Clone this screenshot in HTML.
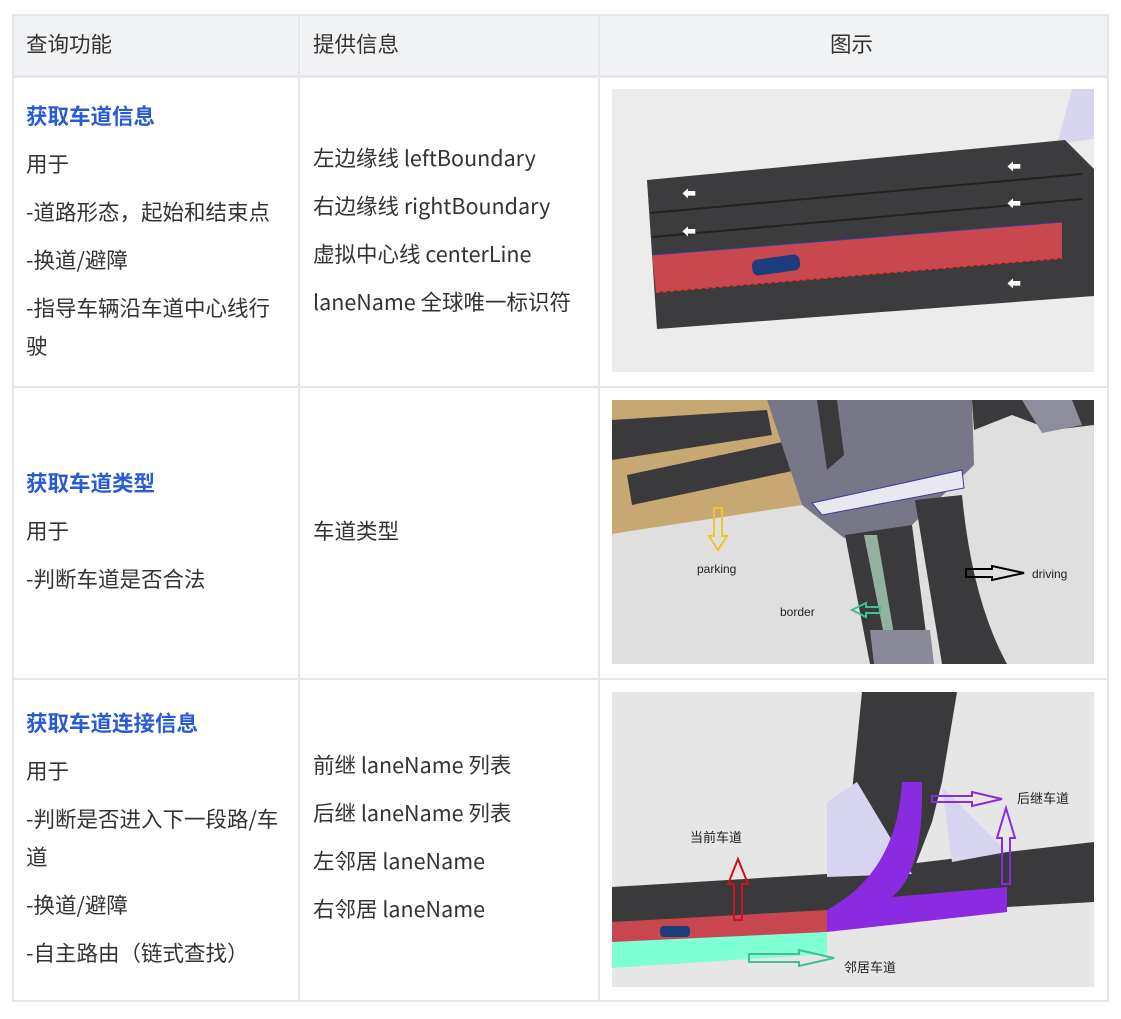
<!DOCTYPE html>
<html><head><meta charset="utf-8"><style>
body{margin:0;background:#fff;width:1121px;height:1019px;position:relative;font-family:"Noto Sans CJK SC","Liberation Sans",sans-serif;color:#333;}
.t{position:absolute;font-size:21.5px;line-height:24px;white-space:nowrap}
.b{color:#2a5bd7;font-weight:bold}
.box{position:absolute}
</style></head><body>
<div class="box" style="left:12px;top:14px;width:1095px;height:62px;background:#f1f2f4"></div>
<div class="box" style="left:12px;top:14px;width:1093px;height:984px;border:2px solid #e4e6e9"></div>
<div class="box" style="left:12px;top:75px;width:1095px;height:3px;background:#e4e6e9"></div>
<div class="box" style="left:12px;top:386px;width:1095px;height:2px;background:#e4e6e9"></div>
<div class="box" style="left:12px;top:678px;width:1095px;height:2px;background:#e4e6e9"></div>
<div class="box" style="left:298px;top:14px;width:2px;height:986px;background:#e4e6e9"></div>
<div class="box" style="left:598px;top:14px;width:2px;height:986px;background:#e4e6e9"></div>

<div class="t" style="left:26px;top:32px">查询功能</div>
<div class="t" style="left:313px;top:32px">提供信息</div>
<div class="t" style="left:830px;top:32px">图示</div>

<div class="t b" style="left:26px;top:104px">获取车道信息</div>
<div class="t" style="left:26px;top:152px">用于</div>
<div class="t" style="left:26px;top:200px">-道路形态，起始和结束点</div>
<div class="t" style="left:26px;top:248px">-换道/避障</div>
<div class="t" style="left:26px;top:296px">-指导车辆沿车道中心线行</div>
<div class="t" style="left:26px;top:334px">驶</div>
<div class="t" style="left:313px;top:146px">左边缘线 leftBoundary</div>
<div class="t" style="left:313px;top:194px">右边缘线 rightBoundary</div>
<div class="t" style="left:313px;top:242px">虚拟中心线 centerLine</div>
<div class="t" style="left:313px;top:290px">laneName 全球唯一标识符</div>

<div class="t b" style="left:26px;top:471px">获取车道类型</div>
<div class="t" style="left:26px;top:519px">用于</div>
<div class="t" style="left:26px;top:567px">-判断车道是否合法</div>
<div class="t" style="left:313px;top:519px">车道类型</div>

<div class="t b" style="left:26px;top:711px">获取车道连接信息</div>
<div class="t" style="left:26px;top:759px">用于</div>
<div class="t" style="left:26px;top:807px">-判断是否进入下一段路/车</div>
<div class="t" style="left:26px;top:845px">道</div>
<div class="t" style="left:26px;top:893px">-换道/避障</div>
<div class="t" style="left:26px;top:941px">-自主路由（链式查找）</div>
<div class="t" style="left:313px;top:753px">前继 laneName 列表</div>
<div class="t" style="left:313px;top:801px">后继 laneName 列表</div>
<div class="t" style="left:313px;top:849px">左邻居 laneName</div>
<div class="t" style="left:313px;top:897px">右邻居 laneName</div>

<!-- image 1 -->
<svg class="box" style="left:612px;top:89px" width="482" height="283" viewBox="0 0 482 283">
<rect width="482" height="283" fill="#ececec"/>
<polygon points="460,0 482,0 482,50 445,55" fill="#d8d6ee"/>
<polygon points="35,91 453,51 482,80 482,207 45,240" fill="#3c3c3e"/>
<line x1="38" y1="124" x2="470" y2="85" stroke="#222" stroke-width="2"/>
<line x1="40" y1="148" x2="470" y2="110" stroke="#222" stroke-width="2"/>
<polygon points="40,166 450,133 450,169 44,203" fill="#c9474f"/>
<line x1="40" y1="166" x2="450" y2="133" stroke="#2a3fa0" stroke-width="1"/>
<line x1="44" y1="203" x2="450" y2="169" stroke="#e33" stroke-width="2" stroke-dasharray="4,3"/>
<rect x="140" y="168" width="48" height="16" rx="6" fill="#1c3c7a" transform="rotate(-8 164 176)"/>
<g fill="#fff" font-size="14"><text x="70" y="110">⬅</text><text x="70" y="148">⬅</text><text x="395" y="83">⬅</text><text x="395" y="120">⬅</text><text x="395" y="200">⬅</text></g>
</svg>

<!-- image 2 -->
<svg class="box" style="left:612px;top:400px" width="482" height="264" viewBox="0 0 482 264">
<rect width="482" height="264" fill="#dfdfdf"/>
<polygon points="0,0 155,0 190,105 25,130 0,134" fill="#c8a872"/>
<polygon points="0,20 155,10 160,35 0,60" fill="#3a3a3c"/>
<polygon points="15,75 180,40 185,70 20,105" fill="#3a3a3c"/>
<polygon points="155,0 360,0 362,65 300,125 232,138 190,105" fill="#787787"/>
<polygon points="205,0 225,0 232,55 215,70" fill="#3a3a3c"/>
<polygon points="360,0 482,0 482,25 440,30 400,15 362,30" fill="#3a3a3c"/>
<polygon points="410,0 460,0 470,25 430,33" fill="#8e8d9c"/>
<path d="M362,65 Q400,25 482,40 L482,264 L395,264 Q360,150 362,65Z" fill="#dfdfdf"/>
<polygon points="233,135 300,125 318,264 258,264" fill="#3a3a3c"/>
<polygon points="252,135 265,135 283,240 273,240" fill="#94b0a0"/>
<path d="M303,100 L350,95 Q360,200 395,264 L330,264 Z" fill="#3a3a3c"/>
<polygon points="200,103 350,70 352,88 210,115" fill="#e8e8ee" stroke="#3a3aa0" stroke-width="1"/>
<polygon points="258,230 318,230 322,264 262,264" fill="#8a8998"/>
<path d="M102,108 h8 v28 h5 l-9,14 l-9,-14 h5z" fill="none" stroke="#f2c230" stroke-width="2"/>
<path d="M268,207 h-14 v-4 l-14,7 l14,7 v-4 h14z" fill="none" stroke="#40c090" stroke-width="2"/>
<path d="M354,169 h26 v-3 l32,7 l-32,7 v-3 h-26z" fill="none" stroke="#000" stroke-width="2"/>
<g font-size="12" fill="#222" font-family="Liberation Sans,sans-serif"><text x="85" y="173">parking</text><text x="168" y="216">border</text><text x="420" y="178">driving</text></g>
</svg>

<!-- image 3 -->
<svg class="box" style="left:612px;top:692px" width="482" height="295" viewBox="0 0 482 295">
<rect width="482" height="295" fill="#e6e6e6"/>
<polygon points="0,195 215,182 395,160 482,150 482,210 395,215 215,235 0,240" fill="#3a3a3c"/>
<polygon points="250,0 345,0 330,90 320,130 300,182 215,185 240,100" fill="#3a3a3c"/>
<polygon points="215,110 245,90 300,182 215,185" fill="#d6d4ee"/>
<polygon points="330,95 395,160 340,170" fill="#d6d4ee"/>
<path d="M290,90 L310,90 Q312,180 280,205 L395,195 L395,220 L215,240 L215,218 Q285,180 290,90Z" fill="#8a2be2"/>
<polygon points="0,230 215,218 215,240 0,253" fill="#c8474f"/>
<polygon points="0,250 215,240 215,262 0,276" fill="#7fffd4"/>
<rect x="48" y="234" width="30" height="11" rx="4" fill="#1c3c7a"/>
<path d="M122,228 v-36 h-6 l10,-25 l10,25 h-6 v36z" fill="none" stroke="#d01020" stroke-width="2"/>
<path d="M320,104 h40 v-4 l30,7 l-30,7 v-4 h-40z" fill="none" stroke="#8a2be2" stroke-width="2"/>
<path d="M390,192 v-46 h-5 l9,-30 l9,30 h-5 v46z" fill="none" stroke="#8a2be2" stroke-width="2"/>
<path d="M137,262 h50 v-4 l35,8 l-35,8 v-4 h-50z" fill="none" stroke="#40c090" stroke-width="2"/>
<g font-size="13" fill="#222"><text x="78" y="150">当前车道</text><text x="405" y="111">后继车道</text><text x="232" y="280">邻居车道</text></g>
</svg>
</body></html>
